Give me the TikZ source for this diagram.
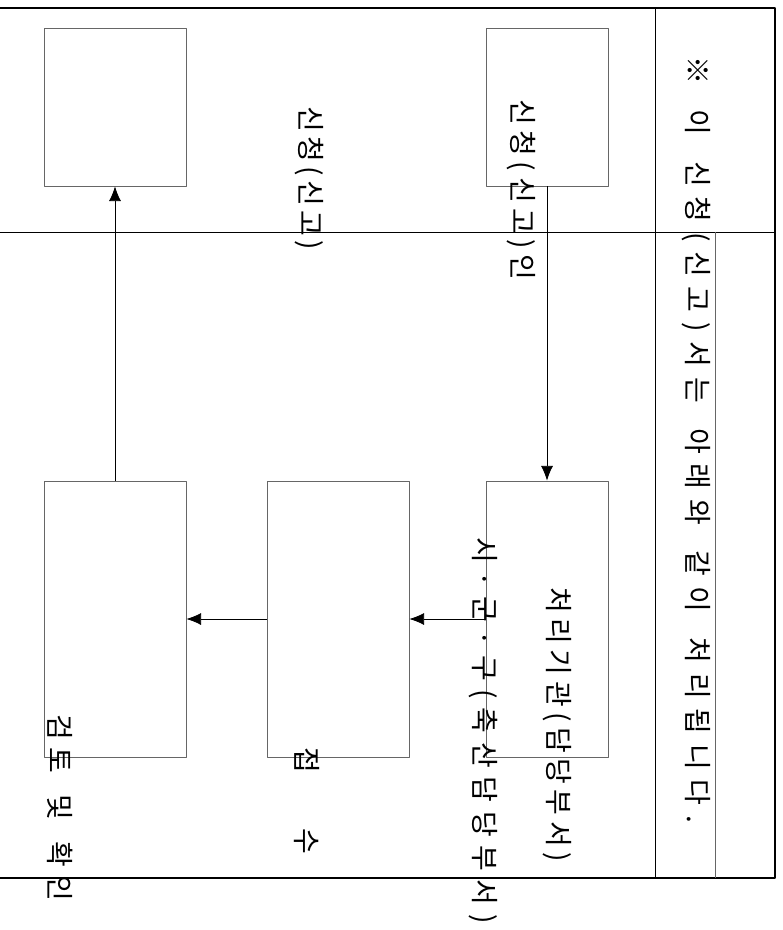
\documentclass[tikz,border=0pt]{standalone}
\usepackage{fontspec}
\setmainfont{Noto Sans CJK KR}
\usetikzlibrary{arrows.meta}
%Giãn đều các chữ trên một độ dài cho trước
\newcommand\gian[2]{\makebox[#1][s]{\giana#2\relax}}
\def\giana#1{#1\gianb}
\def\gianb#1{\ifx#1\relax\else\hfil#1\expandafter\gianb\fi}
\begin{document}
\begin{tikzpicture}[x=0.75pt, y=-0.75pt, line join = round, >={Latex[length=11pt,width=9pt]},
	hop/.style={draw=black!60, line width=0.6pt, inner sep=0pt},
	chu/.style={rotate=-90, anchor=west, inner sep=0pt, font=\fontsize{21}{25}\selectfont}]
	\useasboundingbox (0,0) rectangle (782,930);
	%Khung ngoài
	\draw[line width=2pt] (0,8)--(775,8)--(775,878)--(0,878);
	\draw[line width=0.7pt] (655,8)--(655,878);
	\draw[line width=0.7pt] (0,232)--(775,232);
	\draw[line width=0.6pt, black!60] (715,232)--(715,878);
	%Các hộp
	\node[hop, minimum width=106.5pt, minimum height=118.5pt] (ketqua) at (115,107) {};
	\node[hop, minimum width=91.5pt, minimum height=118.5pt] (nguoidon) at (547,107) {};
	\node[hop, minimum width=91.5pt, minimum height=207pt] (coquan) at (547,619) {};
	\node[hop, minimum width=106.5pt, minimum height=207pt] (tiepnhan) at (338,619) {};
	\node[hop, minimum width=106.5pt, minimum height=207pt] (kiemtra) at (115,619) {};
	%Các mũi tên
	\draw[->, line width=0.6pt] (nguoidon)--(coquan);
	\draw[->, line width=0.6pt] (coquan)--(tiepnhan);
	\draw[->, line width=0.6pt] (tiepnhan)--(kiemtra);
	\draw[->, line width=0.6pt] (kiemtra)--(ketqua);
	%Chữ
	\node[chu] (tieude) at (696,56) {\gian{575pt}{※~이~신청(신고)서는~아래와~같이~처리됩니다.}};
	\node[chu] (t_nguoidon) at (521,99) {\gian{136pt}{신청(신고)인}};
	\node[chu] (t_ketqua) at (309,106) {\gian{108pt}{신청(신고)}};
	\node[chu] (t_coquan) at (557,587) {\gian{206pt}{처리기관(담당부서)}};
	\node[chu] (t_sigungu) at (483,537) {\gian{290pt}{시·군·구(축산담당부서)}};
	\node[chu] (t_tiepnhan) at (307,747) {\gian{80pt}{접수}};
	\node[chu] (t_kiemtra) at (60,714) {\gian{140pt}{검토~및~확인}};
\end{tikzpicture}
\end{document}
